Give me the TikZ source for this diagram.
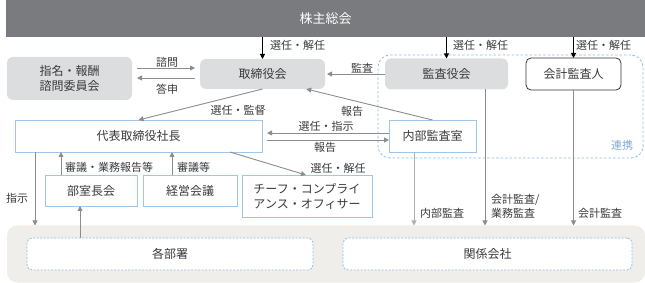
\documentclass[tikz,border=0pt]{standalone}
\usepackage{fontspec}
\setmainfont{Noto Sans CJK JP}
\usetikzlibrary{arrows.meta,calc}
\definecolor{bargray}{HTML}{7A7B7F}
\definecolor{boxgray}{HTML}{DCDDDF}
\definecolor{txt}{HTML}{3A3A3A}
\definecolor{ln}{HTML}{8C8C8C}
\definecolor{bluebd}{HTML}{9EC6EA}
\definecolor{bluedash}{HTML}{8BBDE6}
\definecolor{bottomfill}{HTML}{EFEEEA}
\tikzset{
  base/.style={inner sep=0pt, outer sep=0pt, align=center, text=txt, font=\fontsize{12}{15}\selectfont},
  graybox/.style={base, fill=boxgray, rounded corners=6pt},
  bluebox/.style={base, draw=bluebd, fill=white, line width=0.9pt},
  blackbox/.style={base, draw=black!80, fill=white, rounded corners=5pt, line width=0.8pt},
  dashbox/.style={base, draw=bluedash, dashed, dash pattern=on 2pt off 1.5pt, fill=white, rounded corners=5pt, line width=0.8pt},
  lbl/.style={inner sep=0pt, text=txt, font=\fontsize{11}{13}\selectfont, align=left},
  conn/.style={draw=ln, line width=0.9pt, -{Triangle[length=5pt,width=5pt]}},
  topconn/.style={draw=black, line width=1pt, -{Triangle[length=5pt,width=5pt]}},
}
\begin{document}
\begin{tikzpicture}[x=1pt,y=-1pt]
\useasboundingbox (0,0) rectangle (645,283);
% regions
\node[base, fill=bottomfill, rounded corners=10pt, minimum width=638pt, minimum height=57pt] (bottom) at (326,254) {};
\node[inner sep=0pt, draw=bluedash, dashed, dash pattern=on 2.5pt off 2pt, rounded corners=12pt, line width=0.8pt, minimum width=265pt, minimum height=103pt] (renkei) at (510.5,106.5) {};
\node[text=bluedash!90!black, font=\fontsize{11}{13}\selectfont, inner sep=0pt] (renkeilbl) at (622,145) {連携};
% top bar
\node[base, fill=bargray, text=white, minimum width=639pt, minimum height=37pt, font=\fontsize{13}{15}\selectfont] (bar) at (325.5,18.5) {株主総会};
% boxes
\node[graybox, minimum width=125pt, minimum height=43pt] (nomin) at (69.5,78.5) {指名・報酬\\諮問委員会};
\node[graybox, minimum width=125pt, minimum height=30pt] (board) at (262.5,74) {取締役会};
\node[graybox, minimum width=123pt, minimum height=31pt] (kansa) at (446.5,74) {監査役会};
\node[blackbox, minimum width=95pt, minimum height=32pt] (kaikei) at (573.5,74) {会計監査人};
\node[bluebox, minimum width=247pt, minimum height=32pt] (rep) at (138.5,136) {代表取締役社長};
\node[bluebox, minimum width=87pt, minimum height=32pt] (naibu) at (432.5,136) {内部監査室};
\node[bluebox, minimum width=92pt, minimum height=31pt] (buchou) at (91,190.5) {部室長会};
\node[bluebox, minimum width=94pt, minimum height=31pt] (keiei) at (190,190.5) {経営会議};
\node[bluebox, minimum width=130pt, minimum height=42pt, align=left] (cco) at (307,196) {チーフ・コンプライ\\アンス・オフィサー};
\node[dashbox, minimum width=286pt, minimum height=32pt] (kakubu) at (170,254) {各部署};
\node[dashbox, minimum width=289pt, minimum height=32pt] (kankei) at (487.5,254) {関係会社};
% top arrows
\draw[topconn] (bar.south -| board.north) -- (board.north);
\draw[topconn] (bar.south -| kansa.north) -- (kansa.north);
\draw[topconn] (bar.south -| kaikei.north) -- (kaikei.north);
\node[lbl, anchor=west] (l1) at (270,45) {選任・解任};
\node[lbl, anchor=west] (l2) at (453,45) {選任・解任};
\node[lbl, anchor=west] (l3) at (576,45) {選任・解任};
% nomination arrows
\draw[conn, shorten <=5pt, shorten >=5pt] ([yshift=-4pt]board.west) -- ([yshift=-4pt]board.west -| nomin.east);
\draw[conn, shorten <=5pt, shorten >=5pt] ([yshift=6pt]board.west -| nomin.east) -- ([yshift=6pt]board.west);
\node[lbl] (l4) at (167,62) {諮問};
\node[lbl] (l5) at (167,89) {答申};
% audit
\draw[conn, shorten >=2pt] (kansa.west) -- (board.east);
\node[lbl] (l6) at (362,68) {監査};
% board -> rep
\draw[conn] (board.south) -- (rep.north);
\node[lbl] (l7) at (238,110) {選任・監督};
% naibu -> board
\draw[conn] (naibu.north) -- ($(board.south)!0.7!(board.south east)$);
\node[lbl] (l8) at (352,111) {報告};
% rep <-> naibu
\draw[conn, shorten <=5pt] ([yshift=-4pt]rep.east) -- ([yshift=-4pt]rep.east -| naibu.west);
\draw[conn, shorten >=5pt] ([yshift=3pt]rep.east -| naibu.west) -- ([yshift=3pt]rep.east);
\node[lbl] (l9) at (326,126) {選任・指示};
\node[lbl] (l10) at (325,147) {報告};
% sub-committees
\draw[conn] (buchou.north -| 61,0) -- (rep.south -| 61,0);
\node[lbl, anchor=west] (l11) at (65,167) {審議・業務報告等};
\draw[conn] (keiei.north -| 172,0) -- (rep.south -| 172,0);
\node[lbl, anchor=west] (l12) at (177,167) {審議等};
\draw[conn] (rep.south -| 230,0) -- (cco.north -| 306,0);
\node[lbl] (l13) at (338,168) {選任・解任};
% instruct
\draw[conn] (rep.south -| 35,0) -- (bottom.north -| 35,0);
\node[lbl] (l14) at (17,198) {指示};
\draw[conn] (kakubu.north -| 80,0) -- (buchou.south -| 80,0);
% audits downward
\draw[conn, draw=ln!70] (naibu.south -| 414,0) -- (bottom.north -| 414,0);
\node[lbl, anchor=west] (l15) at (420,213) {内部監査};
\draw[conn] (kansa.south -| 485,0) -- (bottom.north -| 485,0);
\node[lbl, anchor=west, font=\fontsize{11}{14}\selectfont] (l16) at (491,206) {会計監査/\\業務監査};
\draw[conn] (kaikei.south) -- (bottom.north -| kaikei.south);
\node[lbl, anchor=west] (l17) at (578,213) {会計監査};
\end{tikzpicture}
\end{document}
